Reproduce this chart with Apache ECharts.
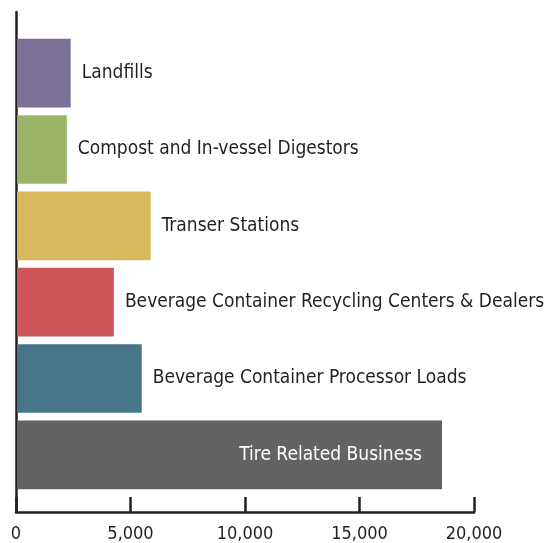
<!DOCTYPE html>
<html>
<head>
<meta charset="utf-8">
<script src="https://cdn.jsdelivr.net/npm/echarts@6/dist/echarts.min.js"></script>
<style>
  html, body { margin: 0; padding: 0; background: #fff; }
  #chart { width: 545px; height: 543px; }
</style>
</head>
<body>
<div id="chart"></div>
<script>
// categories, top to bottom
const categories = [
  "Landfills",
  "Compost and In-vessel Digestors",
  "Transer Stations",
  "Beverage Container Recycling Centers & Dealers",
  "Beverage Container Processor Loads",
  "Tire Related Business",
];
const values = [2350, 2180, 5850, 4240, 5460, 18600];
const colors = ["#7b7096", "#9bb46a", "#d8b85e", "#cf575a", "#477688", "#636363"];
const xTicks = [0, 5000, 10000, 15000, 20000];

const font = "'DejaVu Sans Condensed', 'Roboto Condensed', Roboto, sans-serif";
const ink = "#231f20";

const chart = echarts.init(document.getElementById("chart"));
chart.setOption({
  animation: false,
  grid: [
    // bars
    { left: 17, width: 457, top: 35, height: 458 },
    // frame: y axis line + x axis
    { left: 16, width: 458, top: 12, bottom: 30 },
  ],
  xAxis: [
    { gridIndex: 0, type: "value", min: 0, max: 20000, show: false },
    {
      gridIndex: 1,
      type: "value",
      min: 0,
      max: xTicks[xTicks.length - 1],
      interval: 5000,
      axisLine: { show: true, lineStyle: { color: ink, width: 2.5 } },
      axisTick: { show: true, inside: true, length: 15, lineStyle: { color: ink, width: 2.5 } },
      splitLine: { show: false },
      axisLabel: {
        margin: 13,
        color: ink,
        fontFamily: font,
        fontSize: 18,
        formatter: (v) => v.toLocaleString("en-US"),
      },
    },
  ],
  yAxis: [
    {
      gridIndex: 0,
      type: "category",
      data: categories,
      inverse: true,
      show: false,
    },
    {
      gridIndex: 1,
      type: "value",
      min: 0,
      max: 1,
      axisLine: { show: true, lineStyle: { color: ink, width: 2.5 } },
      axisTick: { show: false },
      axisLabel: { show: false },
      splitLine: { show: false },
    },
  ],
  series: [
    {
      type: "bar",
      xAxisIndex: 0,
      yAxisIndex: 0,
      barCategoryGap: "10%",
      data: values.map((v, i) => ({
        value: v,
        itemStyle: { color: colors[i] },
        label:
          i === values.length - 1
            ? { position: "insideRight", distance: 20, color: "#fff" }
            : {},
      })),
      label: {
        show: true,
        position: "right",
        distance: 11,
        color: ink,
        fontFamily: font,
        fontSize: 19,
        formatter: (p) => p.name,
      },
    },
  ],
});
</script>
</body>
</html>
